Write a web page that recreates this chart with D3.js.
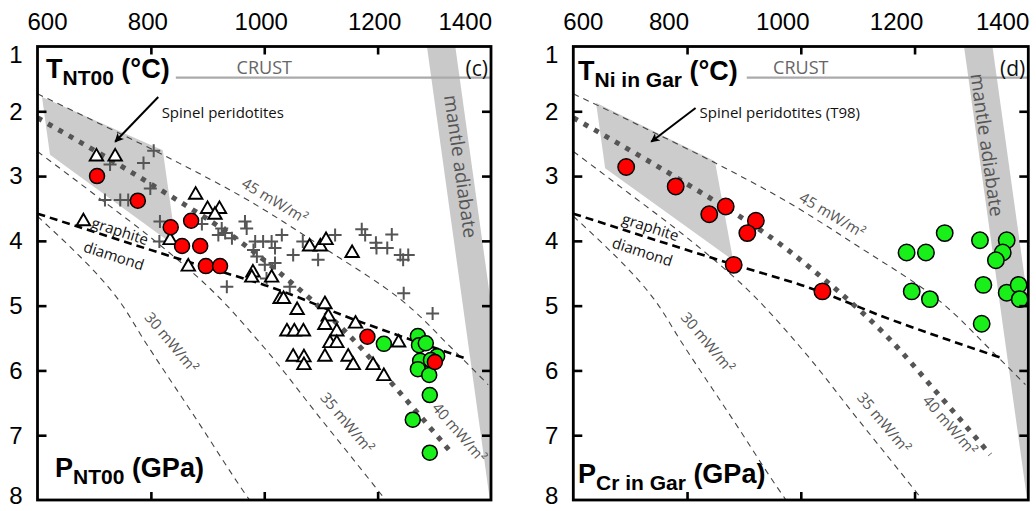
<!DOCTYPE html>
<html><head><meta charset="utf-8">
<script src="https://cdn.jsdelivr.net/npm/d3@7"></script>
<style>body{margin:0;background:#fff}svg{display:block}</style>
</head><body>
<svg id="chart" width="1036" height="511"></svg>
<script>
// ---------- axis ticks ----------
const xTickValues = [600, 800, 1000, 1200, 1400];
const xTickLabels = ["600", "800", "1000", "1200", "1400"];
const yTickValues = [1, 2, 3, 4, 5, 6, 7, 8];
const yTickLabels = ["1", "2", "3", "4", "5", "6", "7", "8"];

// ---------- panel (c): NT00 ----------
const cRed = [[705,3.00],[777,3.38],[835,3.79],[871,3.69],[855,4.08],[887,4.08],[897,4.39],[922,4.39],[1182,5.48],[1301,5.87]];
const cGreen = [[1211,5.59],[1271,5.47],[1273,5.61],[1285,5.58],[1275,5.85],[1271,5.98],[1291,6.07],[1305,5.78],[1294,5.84],[1292,6.38],[1262,6.76],[1292,7.27]];
const cTriangles = [[704,2.70],[737,2.70],[681,3.70],[879,3.29],[900,3.51],[921,3.51],[913,3.60],[834,3.99],[866,4.40],[980,4.49],[978,4.57],[1013,4.57],[1028,4.90],[1034,4.90],[1080,4.09],[1099,4.09],[1109,3.99],[1155,4.19],[1058,5.07],[1107,4.98],[1113,5.17],[1040,5.40],[1053,5.40],[1069,5.40],[1051,5.79],[1070,5.80],[1070,5.92],[1107,5.30],[1128,5.40],[1116,5.58],[1128,5.58],[1107,5.79],[1148,5.79],[1157,5.92],[1161,5.28],[1192,5.92],[1211,6.09],[1237,5.57]];
const cCrosses = [[805,2.61],[787,2.80],[728,2.82],[799,3.19],[719,3.37],[746,3.37],[760,3.37],[816,3.70],[815,4.01],[890,3.74],[925,3.81],[931,3.88],[919,3.91],[943,3.96],[966,3.70],[969,3.81],[984,4.01],[998,4.01],[1013,4.01],[1031,3.91],[1019,4.11],[981,4.14],[987,4.24],[1051,4.22],[1095,4.29],[1001,4.37],[1019,4.34],[934,4.71],[1045,4.71],[1068,4.01],[1125,3.91],[1172,3.82],[1178,3.91],[1197,4.03],[1198,4.11],[1217,4.11],[1225,3.90],[1240,4.22],[1245,4.29],[1254,4.22],[1246,4.81],[1297,5.12],[1004,4.58]];
const cSpinelField = [[608,1.78],[821,2.60],[842,3.91],[830,4.00],[622,2.67]];

// ---------- panel (d): Ni in Gar ----------
const dRed = [[693,2.86],[780,3.16],[839,3.59],[868,3.47],[921,3.69],[906,3.88],[882,4.37],[1038,4.78]];
const dGreen = [[1253,3.88],[1186,4.18],[1220,4.18],[1315,3.99],[1362,3.99],[1355,4.18],[1343,4.30],[1195,4.78],[1227,4.90],[1321,4.68],[1362,4.80],[1383,4.68],[1385,4.90],[1318,5.28]];
const dSpinelField = [[640,1.87],[849,2.77],[881,4.30],[656,2.88]];

// ---------- shared reference curves ----------
const geotherm45 = [[600,1.73],[700,2.15],[850,2.80],[957,3.30],[1100,4.08],[1240,4.90],[1330,5.65],[1395,6.22]];
const geotherm35 = [[600,2.62],[700,3.28],[800,3.95],[900,4.70],[1000,5.65],[1100,6.75],[1205,7.90],[1214,8.00]];
const geotherm30 = [[600,3.62],[742,4.90],[790,5.56],[880,6.75],[970,7.95],[974,8.00]];
const geotherm40 = [[600,2.10],[790,3.07],[948,3.95],[1035,4.55],[1135,5.33],[1245,6.40],[1333,7.30]];
const graphiteDiamond = [[600,3.58],[880,4.36],[1000,4.68],[1160,5.22],[1357,5.82]];
const mantleAdiabat = [[1287,1],[1337,1],[1448,8],[1398,8]];
const crustP = 1.48;

const svg = d3.select("#chart");
const defs = svg.append("defs");
defs.append("marker").attr("id","arrow").attr("viewBox","0 0 10 10")
  .attr("refX",9).attr("refY",5).attr("markerWidth",11).attr("markerHeight",9)
  .attr("markerUnits","userSpaceOnUse").attr("orient","auto")
  .append("path").attr("d","M0,0L10,5L0,10L2.5,5Z").attr("fill","#000");

const ann = "'Open Sans', 'Noto Sans', sans-serif";
const sans = "'Liberation Sans', Arial, sans-serif";

const panels = [
  {id:"c", left:37.5, right:491, red:cRed, green:cGreen, tri:cTriangles, cross:cCrosses,
   field:cSpinelField, r:7.5, labShift:-3,
   title:["T","NT00"," (°C)"], titleX:46, titleY:78,
   plab:["P","NT00"," (GPa)"], plabX:55, plabY:477,
   crustStart:844, letter:"(c)",
   spinelText:"Spinel peridotites", spinelPos:[819,2.10], arrow:[[813,1.78],[737,2.47]],
   l45:[1019,3.37], l40:[1345,6.95], adiab:[1347,2.85],
   graph:[746,3.84], diam:[735,4.22]},
  {id:"d", left:573.3, right:1028.3, red:dRed, green:dGreen, tri:[], cross:[],
   field:dSpinelField, r:8.2, labShift:-18,
   title:["T","Ni in Gar"," (°C)"], titleX:578, titleY:80,
   plab:["P","Cr in Gar"," (GPa)"], plabX:578, plabY:483,
   crustStart:905, letter:"(d)",
   spinelText:"Spinel peridotites (T98)", spinelPos:[822,2.10], arrow:[[815,1.95],[737,2.47]],
   l45:[1056,3.59], l40:[1263,6.84], adiab:[1328,2.52],
   graph:[736,3.78], diam:[722,4.16]}
];

const yTop = 46.5, yBottom = 500;

panels.forEach(p => {
  const x = d3.scaleLinear().domain([600,1400]).range([p.left, p.right]);
  const y = d3.scaleLinear().domain([1,8]).range([yTop, yBottom]);
  const g = svg.append("g");
  const clipId = "clip-" + p.id;
  defs.append("clipPath").attr("id", clipId).append("rect")
    .attr("x", p.left).attr("y", yTop).attr("width", p.right - p.left).attr("height", yBottom - yTop);
  const plot = g.append("g").attr("clip-path", `url(#${clipId})`);
  const line = d3.line().x(d => x(d[0])).y(d => y(d[1]));
  const curve = d3.line().x(d => x(d[0])).y(d => y(d[1])).curve(d3.curveMonotoneY);

  plot.append("path").attr("d", line(mantleAdiabat) + "Z").attr("fill", "#c9c9c9");
  plot.append("path").attr("d", line(p.field) + "Z").attr("fill", "#cccccc");

  plot.append("line").attr("x1", x(p.crustStart)).attr("x2", x(1400))
    .attr("y1", y(crustP)).attr("y2", y(crustP)).attr("stroke", "#aaa").attr("stroke-width", 2.2);

  [geotherm45, geotherm35, geotherm30].forEach(gt => {
    plot.append("path").attr("d", curve(gt)).attr("fill","none")
      .attr("stroke","#444").attr("stroke-width",1.1).attr("stroke-dasharray","6,5");
  });
  plot.append("path").attr("d", curve(graphiteDiamond)).attr("fill","none")
    .attr("stroke","#000").attr("stroke-width",2.6).attr("stroke-dasharray","8,5");
  plot.append("path").attr("d", curve(geotherm40)).attr("fill","none")
    .attr("stroke","#555").attr("stroke-width",5).attr("stroke-dasharray","5,7");

  const rotText = (txt, pos, ang, size, color) => {
    g.append("text").attr("transform", `translate(${x(pos[0])},${y(pos[1])}) rotate(${ang})`)
      .attr("text-anchor","middle").attr("dominant-baseline","central")
      .attr("font-family", ann).attr("font-size", size).attr("fill", color).text(txt);
  };
  rotText("45 mW/m²", p.l45, 31, 15, "#555");
  rotText("40 mW/m²", p.l40, 49, 15, "#555");
  rotText("35 mW/m²", [1147,6.80], 50, 15, "#555");
  rotText("30 mW/m²", [837,5.56], 50, 15, "#555");
  rotText("mantle adiabate", p.adiab, 82, 19, "#555");
  rotText("graphite", p.graph, 18, 15, "#111");
  rotText("diamond", p.diam, 18, 15, "#111");

  g.append("text").attr("x", x(1000)).attr("y", y(1.42)).attr("text-anchor","middle")
    .attr("font-family", ann).attr("font-size", 18).attr("fill","#666").text("CRUST");
  g.append("text").attr("x", p.right - 3).attr("y", 76).attr("text-anchor","end")
    .attr("font-family", ann).attr("font-size", 21).attr("fill","#111").text(p.letter);

  g.append("line").attr("x1", x(p.arrow[0][0])).attr("y1", y(p.arrow[0][1]))
    .attr("x2", x(p.arrow[1][0])).attr("y2", y(p.arrow[1][1]))
    .attr("stroke","#000").attr("stroke-width",2).attr("marker-end","url(#arrow)");
  g.append("text").attr("x", x(p.spinelPos[0])).attr("y", y(p.spinelPos[1]))
    .attr("font-family", ann).attr("font-size", 15).attr("fill","#111").text(p.spinelText);

  g.append("g").selectAll("path").data(p.cross).join("path")
    .attr("d", d => `M${x(d[0])-6.5},${y(d[1])}H${x(d[0])+6.5}M${x(d[0])},${y(d[1])-6.5}V${y(d[1])+6.5}`)
    .attr("stroke","#555").attr("stroke-width",2).attr("fill","none");
  const tri = d3.symbol().type(d3.symbolTriangle).size(78);
  g.append("g").selectAll("path").data(p.tri).join("path")
    .attr("d", tri).attr("transform", d => `translate(${x(d[0])},${y(d[1])})`)
    .attr("fill","#fff").attr("stroke","#000").attr("stroke-width",1.9);
  g.append("g").selectAll("circle").data(p.green).join("circle")
    .attr("cx", d => x(d[0])).attr("cy", d => y(d[1])).attr("r", p.r)
    .attr("fill","#19f019").attr("stroke","#000").attr("stroke-width",1.5);
  g.append("g").selectAll("circle").data(p.red).join("circle")
    .attr("cx", d => x(d[0])).attr("cy", d => y(d[1])).attr("r", p.r)
    .attr("fill","#ff0000").attr("stroke","#000").attr("stroke-width",1.5);

  g.append("rect").attr("x", p.left).attr("y", yTop).attr("width", p.right - p.left)
    .attr("height", yBottom - yTop).attr("fill","none").attr("stroke","#000").attr("stroke-width",2.8);

  const inner = xTickValues.slice(1, -1);
  const innerY = yTickValues.slice(1, -1);
  const styleAxis = sel => { sel.select(".domain").remove(); sel.selectAll("text").remove();
    sel.selectAll("line").attr("stroke","#000").attr("stroke-width",2.6); };
  g.append("g").attr("transform", `translate(0,${yTop})`).call(d3.axisBottom(x).tickValues(inner).tickSize(8)).call(styleAxis);
  g.append("g").attr("transform", `translate(0,${yBottom})`).call(d3.axisTop(x).tickValues(inner).tickSize(8)).call(styleAxis);
  g.append("g").attr("transform", `translate(${p.left},0)`).call(d3.axisRight(y).tickValues(innerY).tickSize(9)).call(styleAxis);
  g.append("g").attr("transform", `translate(${p.right},0)`).call(d3.axisLeft(y).tickValues(innerY).tickSize(9)).call(styleAxis);

  xTickValues.forEach((v, i) => {
    const w = xTickLabels[i].length * 13.35;
    let cx = x(v) + p.labShift;
    cx = Math.max(cx, p.left - 10 + w / 2);
    cx = Math.min(cx, p.right + 1 - w / 2);
    g.append("text").attr("x", cx).attr("y", 30).attr("text-anchor","middle")
      .attr("font-family", sans).attr("font-size", 24).attr("fill","#000").text(xTickLabels[i]);
  });
  yTickValues.forEach((v, i) => {
    const yy = Math.min(Math.max(y(v), 55), 496);
    g.append("text").attr("x", p.left - 15).attr("y", yy).attr("dy","0.35em").attr("text-anchor","end")
      .attr("font-family", sans).attr("font-size", 24).attr("fill","#000").text(yTickLabels[i]);
  });

  const title = (parts, tx, ty) => {
    const t = g.append("text").attr("x", tx).attr("y", ty).attr("font-family", sans)
      .attr("font-weight","bold").attr("fill","#000");
    t.append("tspan").attr("font-size", 27).text(parts[0]);
    t.append("tspan").attr("font-size", 21).attr("dy", 7).text(parts[1]);
    t.append("tspan").attr("font-size", 27).attr("dy", -7).text(parts[2]);
  };
  title(p.title, p.titleX, p.titleY);
  title(p.plab, p.plabX, p.plabY);
});
</script>
</body></html>
